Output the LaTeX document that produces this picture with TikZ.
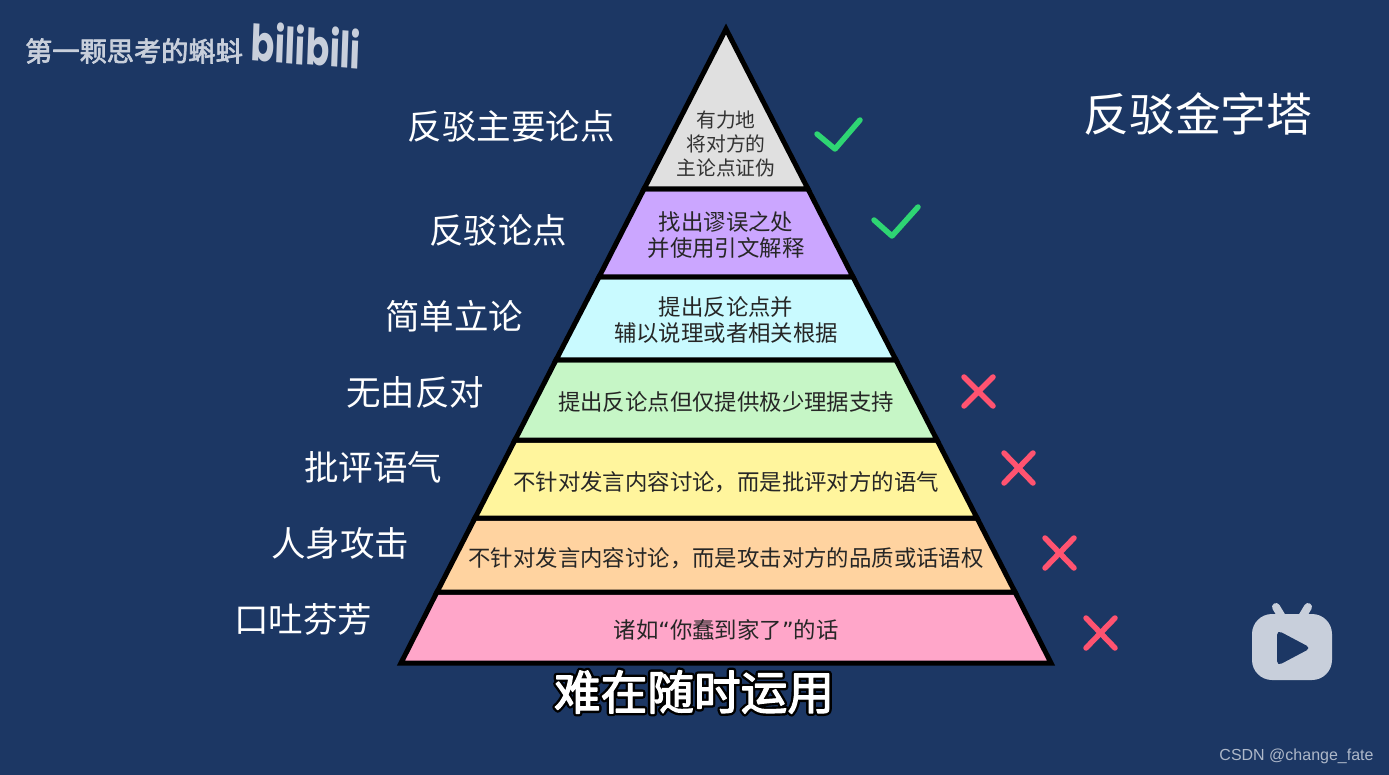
\documentclass[tikz,border=0pt]{standalone}
\usepackage{fontspec}
\setmainfont{Noto Sans CJK SC}
\newfontfamily\latinfont{Liberation Sans}
\newfontfamily\logofont{Poppins}
\newfontfamily\guillfont{DejaVu Sans}
\definecolor{fond}{HTML}{1C3764}
\definecolor{gris}{HTML}{E0E0E0}
\definecolor{violet}{HTML}{CBA6FF}
\definecolor{cyan}{HTML}{C9FAFF}
\definecolor{vert}{HTML}{C6F6C6}
\definecolor{jaune}{HTML}{FFF59D}
\definecolor{orange}{HTML}{FFD3A0}
\definecolor{rose}{HTML}{FFA6C9}
\definecolor{valide}{HTML}{2ED573}
\definecolor{refus}{HTML}{FF5370}
\definecolor{marque}{HTML}{C8CFDB}
% #1 : epaisseur, #2 : couleur du trait (RG), #3 : texte
\newcommand{\Trait}[3]{\special{pdf:code q 2 Tr #1 w 1 j #2 RG}#3\special{pdf:code Q}}
\newcommand{\Virgule}{\char"FF0C\relax}
\begin{document}
\begin{tikzpicture}[x=1pt,y=-1pt]
	% Styles
	\tikzstyle{bande}=[draw=black,line width=5pt,line join=miter]
	\tikzstyle{niveau}=[inner sep=0pt,align=center,text=white,font=\fontsize{34.5}{40}\selectfont]
	\tikzstyle{texte}=[inner sep=0pt,align=center,text=black!85,font=\fontsize{22.4}{26}\selectfont]
	\tikzstyle{petit}=[inner sep=0pt,align=center,text=black!80,font=\fontsize{19.8}{24.4}\selectfont]
	\tikzstyle{oui}=[valide,line width=5.5pt,line cap=round,line join=round]
	\tikzstyle{non}=[refus,line width=5.5pt,line cap=round]
	\tikzstyle{logo}=[inner sep=0pt,text=marque]
	\useasboundingbox (0,0) rectangle (1389,775);
	\fill[fond] (0,0) rectangle (1389,775);
	% Bandes
	\draw[bande,fill=rose] (437,592)--(1015,592)--(1051,663)--(401,663)--cycle;
	\draw[bande,fill=orange] (475,518)--(977,518)--(1015,592)--(437,592)--cycle;
	\draw[bande,fill=jaune] (515,440)--(937,440)--(977,518)--(475,518)--cycle;
	\draw[bande,fill=vert] (556,360)--(896,360)--(937,440)--(515,440)--cycle;
	\draw[bande,fill=cyan] (599,277)--(853,277)--(896,360)--(556,360)--cycle;
	\draw[bande,fill=violet] (644,189)--(808,189)--(853,277)--(599,277)--cycle;
	\draw[bande,fill=gris] (726,29)--(808,189)--(644,189)--cycle;
	% Textes des bandes
	\node[petit] (Ta) at (726,144) {有力地\\将对方的\\主论点证伪};
	\node[texte] (Tb) at (726,235) {找出谬误之处\\并使用引文解释};
	\node[texte] (Tc) at (726,320) {提出反论点并\\辅以说理或者相关根据};
	\node[texte] (Td) at (726,401.5) {提出反论点但仅提供极少理据支持};
	\node[texte] (Te) at (726,482.5) {不针对发言内容讨论\Virgule 而是批评对方的语气};
	\node[texte] (Tf) at (726,558.5) {不针对发言内容讨论\Virgule 而是攻击对方的品质或话语权};
	\node[texte] (Tg) at (726,629.5) {诸如{\guillfont “}你蠢到家了{\guillfont ”}的话};
	% Niveaux
	\node[niveau] (Na) at (511,126) {反驳主要论点};
	\node[niveau] (Nb) at (498,230) {反驳论点};
	\node[niveau] (Nc) at (454,316) {简单立论};
	\node[niveau] (Nd) at (415,392) {无由反对};
	\node[niveau] (Ne) at (373,467) {批评语气};
	\node[niveau] (Nf) at (340,543) {人身攻击};
	\node[niveau] (Ng) at (303,619) {口吐芬芳};
	% Titre
	\node[niveau,font=\fontsize{45.8}{50}\selectfont] (titre) at (1198,114) {反驳金字塔};
	\node[niveau,font=\fontsize{46.7}{50}\selectfont,text=black] (contour) at (694,692) {\Trait{6}{0 0 0}{难在随时运用}};
	\node[niveau,font=\fontsize{46.7}{50}\selectfont] (soustitre) at (694,692) {\Trait{1.2}{1 1 1}{难在随时运用}};
	% Marques
	\draw[oui] (817,134)--(835,149)--(860,120);
	\draw[oui] (874,220)--(892,236)--(918,207);
	\draw[non] (964,377)--(993,406) (993,377)--(964,406);
	\draw[non] (1004,453)--(1033,483) (1033,453)--(1004,483);
	\draw[non] (1045,538)--(1074,568) (1074,538)--(1045,568);
	\draw[non] (1086,618)--(1115,648) (1115,618)--(1086,648);
	% Logos
	\node[logo,font=\fontsize{27.2}{30}\selectfont] (chaine) at (134,51) {\Trait{.7}{.784 .812 .859}{第一颗思考的蝌蚪}};
	\node[logo,font=\logofont\bfseries\fontsize{50}{52}\selectfont,xscale=.7,rotate=-3] (bili) at (306,45) {bilibili};
	\draw[marque,line width=8pt,line cap=round] (1276,607)--(1285,622) (1308,607)--(1299,622);
	\fill[marque,rounded corners=20pt] (1252,614) rectangle (1332,680);
	\fill[fond,rounded corners=5pt] (1277,630)--(1311,648)--(1277,666)--cycle;
	\node[inner sep=0pt,text=marque!85!fond,font=\latinfont\fontsize{16}{18}\selectfont] (csdn) at (1296.5,756) {CSDN @change\_fate};
\end{tikzpicture}
\end{document}
